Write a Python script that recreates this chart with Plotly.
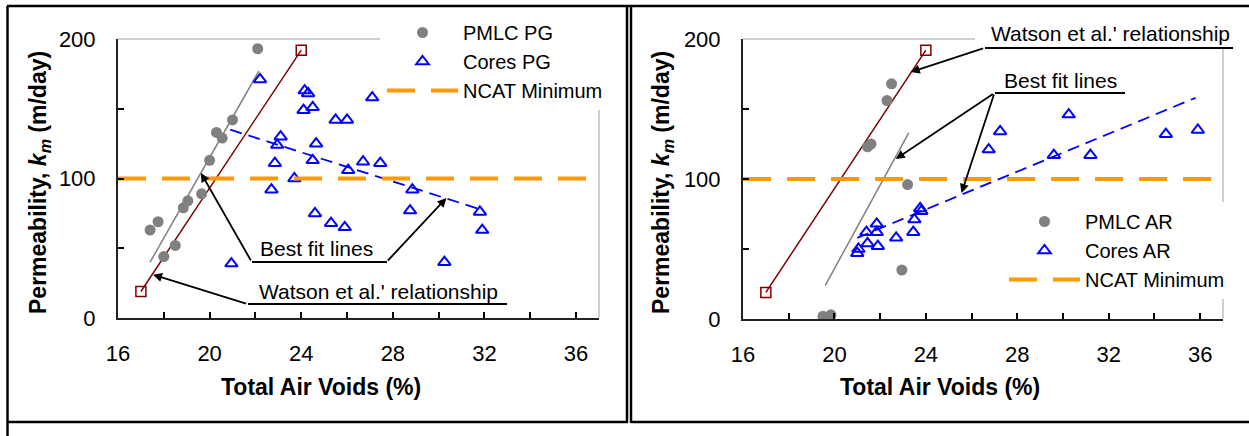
import plotly.graph_objects as go

W, H = 1249, 436

# ---------------- data ----------------
# Left panel: PG
pmlc_pg_x = [22.1, 21.0, 20.3, 20.55, 20.0, 19.65, 19.05, 18.85, 17.75, 17.4, 18.5, 18.0]
pmlc_pg_y = [193, 142, 133, 129, 113, 89, 84, 79, 69, 63, 52, 44]

cores_pg_x = [22.2, 24.15, 24.3, 24.1, 24.5, 25.5, 26.0, 27.1, 23.1, 22.95, 24.65, 22.85, 24.5, 26.7,
              27.45, 26.05, 23.7, 22.7, 28.85, 28.75, 24.6, 25.3, 25.9, 20.95, 31.8, 31.9, 30.25]
cores_pg_y = [171, 163, 161, 149, 151, 142, 142, 158, 130, 124, 125, 111, 113, 112,
              111, 106, 100, 92, 92, 77, 75, 68, 65, 39, 76, 63, 40]

fit_pmlc_pg_x = [17.4, 22.15]
fit_pmlc_pg_y = [40, 177]
fit_cores_pg_x = [20.9, 31.8]
fit_cores_pg_y = [135, 78]

# Right panel: AR
pmlc_ar_x = [22.5, 22.3, 21.6, 21.45, 23.2, 22.95, 19.5, 19.85]
pmlc_ar_y = [168, 156, 125, 123, 96, 35, 2, 3]

cores_ar_x = [21.0, 21.05, 21.45, 21.9, 21.4, 21.85, 21.85, 22.7, 23.45, 23.5, 23.75, 23.8,
              26.75, 27.25, 30.25, 29.6, 31.2, 34.5, 35.9]
cores_ar_y = [47, 50, 54, 52, 62, 68, 62, 58, 62, 71, 79, 77,
              121, 134, 146, 117, 117, 132, 135]

fit_pmlc_ar_x = [19.6, 23.25]
fit_pmlc_ar_y = [24, 133]
fit_cores_ar_x = [21.0, 35.8]
fit_cores_ar_y = [58, 158]

# Shared
watson_x = [17, 24]
watson_y = [19, 192]
ncat_x = [16, 37]
ncat_y = [100, 100]

x_ticks = [16, 20, 24, 28, 32, 36]
y_ticks = [0, 100, 200]

# ---------------- styles ----------------
FONT = "Liberation Sans, Arial, sans-serif"
GRAY = "#808080"
BLUE = "#0000FF"
ORANGE = "#FF9900"
DARKRED = "#800000"


def px(x):
    return x / W


def py(y):
    return 1 - y / H


fig = go.Figure()


def add_panel(xa, ya, leg, pm_x, pm_y, co_x, co_y, fp_x, fp_y, fc_x, fc_y, pm_name, co_name):
    fig.add_trace(go.Scatter(x=fp_x, y=fp_y, mode="lines", line=dict(color=GRAY, width=1.5),
                             showlegend=False, xaxis=xa, yaxis=ya, hoverinfo="skip"))
    fig.add_trace(go.Scatter(x=fc_x, y=fc_y, mode="lines", line=dict(color=BLUE, width=1.8, dash="12px,7px"),
                             showlegend=False, xaxis=xa, yaxis=ya, hoverinfo="skip"))
    fig.add_trace(go.Scatter(x=watson_x, y=watson_y, mode="lines+markers",
                             line=dict(color=DARKRED, width=1.5),
                             marker=dict(symbol="square-open", size=10, color=DARKRED, line=dict(width=1.5)),
                             showlegend=False, xaxis=xa, yaxis=ya))
    fig.add_trace(go.Scatter(x=pm_x, y=pm_y, mode="markers", name=pm_name, legend=leg,
                             marker=dict(symbol="circle", size=11, color=GRAY),
                             xaxis=xa, yaxis=ya))
    fig.add_trace(go.Scatter(x=co_x, y=co_y, mode="markers", name=co_name, legend=leg,
                             marker=dict(symbol="triangle-up-open", size=11, color=BLUE,
                                         line=dict(width=2, color=BLUE)),
                             xaxis=xa, yaxis=ya))
    fig.add_trace(go.Scatter(x=ncat_x, y=ncat_y, mode="lines", name="NCAT Minimum", legend=leg,
                             line=dict(color=ORANGE, width=4, dash="28px,16px"),
                             xaxis=xa, yaxis=ya))


add_panel("x", "y", "legend", pmlc_pg_x, pmlc_pg_y, cores_pg_x, cores_pg_y,
          fit_pmlc_pg_x, fit_pmlc_pg_y, fit_cores_pg_x, fit_cores_pg_y, "PMLC PG", "Cores PG")
add_panel("x2", "y2", "legend2", pmlc_ar_x, pmlc_ar_y, cores_ar_x, cores_ar_y,
          fit_pmlc_ar_x, fit_pmlc_ar_y, fit_cores_ar_x, fit_cores_ar_y, "PMLC AR", "Cores AR")

xcommon = dict(range=[16, 37], tickvals=x_ticks, ticks="inside", ticklen=6, tickwidth=1.5,
               tickcolor="black", minor=dict(dtick=2, tick0=16, ticks="inside", ticklen=6,
                                             tickwidth=1.5, tickcolor="black"),
               showline=True, linecolor="#222", linewidth=2, showgrid=False, zeroline=False,
               tickfont=dict(family=FONT, size=22, color="black"), ticklabelstandoff=15,
               fixedrange=True, automargin=False)
ycommon = dict(range=[0, 200], tickvals=y_ticks, ticks="inside", ticklen=6, tickwidth=1.5,
               tickcolor="black", minor=dict(dtick=50, tick0=0, ticks="inside", ticklen=6,
                                             tickwidth=1.5, tickcolor="black"),
               showline=True, linecolor="#222", linewidth=2, showgrid=False, zeroline=False,
               tickfont=dict(family=FONT, size=22, color="black"), ticklabelstandoff=16,
               fixedrange=True, automargin=False)

L_X0, L_X1, L_YB, L_YT = 118, 599, 318, 39
R_X0, R_X1, R_YB, R_YT = 743, 1223, 319, 39

shapes = []


def seg(x0, y0, x1, y1, color="black", width=2.5):
    shapes.append(dict(type="line", xref="paper", yref="paper", x0=px(x0), y0=py(y0),
                       x1=px(x1), y1=py(y1), line=dict(color=color, width=width)))


# outer table frame
seg(7, 6, W, 6)
seg(7.5, 6, 7.5, H)
seg(7, 422, 628, 422)
seg(627, 6, 627, 422)
seg(631, 6, 631, 423)
seg(631, 422, W, 422)

# light plot-area borders (top / right), interrupted by legend and labels
GB = "#a0a0a0"
seg(L_X0, L_YT, 380, L_YT, GB, 1)
seg(L_X1, 105, L_X1, L_YB, GB, 1)
seg(R_X0, R_YT, 975, R_YT, GB, 1)
seg(R_X1, 48, R_X1, 207, GB, 1)
seg(R_X1, 293, R_X1, R_YB, GB, 1)

# underlines of callouts
seg(252, 262, 387, 262, "black", 1.8)
seg(248, 304, 507, 304, "black", 1.8)
seg(985, 48, 1233, 48, "black", 1.8)
seg(995, 93, 1125, 93, "black", 1.8)

annotations = []


def text(t, x, y, xanchor="left", size=21, bold=False, angle=0):
    annotations.append(dict(text=("<b>%s</b>" % t) if bold else t, xref="paper", yref="paper",
                            x=px(x), y=py(y), xanchor=xanchor, yanchor="middle", showarrow=False,
                            textangle=angle, font=dict(family=FONT, size=size, color="black")))


def arrow(xr, yr, x, y, ax, ay):
    annotations.append(dict(text="", xref=xr, yref=yr, axref=xr, ayref=yr, x=x, y=y, ax=ax, ay=ay,
                            showarrow=True, arrowhead=2, arrowsize=1, arrowwidth=1.8,
                            arrowcolor="black"))


text("Best fit lines", 317, 249, "center")
text("Watson et al.' relationship", 257, 291)
text("Watson et al.' relationship", 989, 33)
text("Best fit lines", 1002, 80)

arrow("x", "y", 19.62, 104, 21.84, 40.1)
arrow("x", "y", 30.34, 86, 27.72, 40.1)
arrow("x", "y", 17.53, 31, 21.66, 10)
arrow("x2", "y2", 23.34, 176.4, 26.57, 193.6)
arrow("x2", "y2", 22.68, 114.3, 27.0, 161.4)
arrow("x2", "y2", 25.56, 90, 27.0, 161.4)

# axis titles
ytitle = "Permeability, <i>k<sub>m</sub></i> (m/day)"
text(ytitle, 39, 183, "center", 23, True, -90)
text(ytitle, 662, 183, "center", 23, True, -90)
text("Total Air Voids (%)", 321, 387, "center", 23, True)
text("Total Air Voids (%)", 940, 387, "center", 23, True)

legend_common = dict(bgcolor="white", borderwidth=0, itemwidth=71, tracegroupgap=0,
                     font=dict(family=FONT, size=20, color="black"),
                     xanchor="left", yanchor="top")

fig.update_layout(
    width=W, height=H, margin=dict(l=0, r=0, t=0, b=0, autoexpand=False),
    paper_bgcolor="white", plot_bgcolor="white",
    font=dict(family=FONT, color="black"),
    xaxis=dict(domain=[px(L_X0), px(L_X1)], anchor="y", **xcommon),
    yaxis=dict(domain=[py(L_YB), py(L_YT)], anchor="x", **ycommon),
    xaxis2=dict(domain=[px(R_X0), px(R_X1)], anchor="y2", **xcommon),
    yaxis2=dict(domain=[py(R_YB), py(R_YT)], anchor="x2", **ycommon),
    legend=dict(x=px(382), y=py(13), **legend_common),
    legend2=dict(x=px(1004), y=py(202), **legend_common),
    shapes=shapes,
    annotations=annotations,
    showlegend=True,
)

fig.write_html("out.html")
